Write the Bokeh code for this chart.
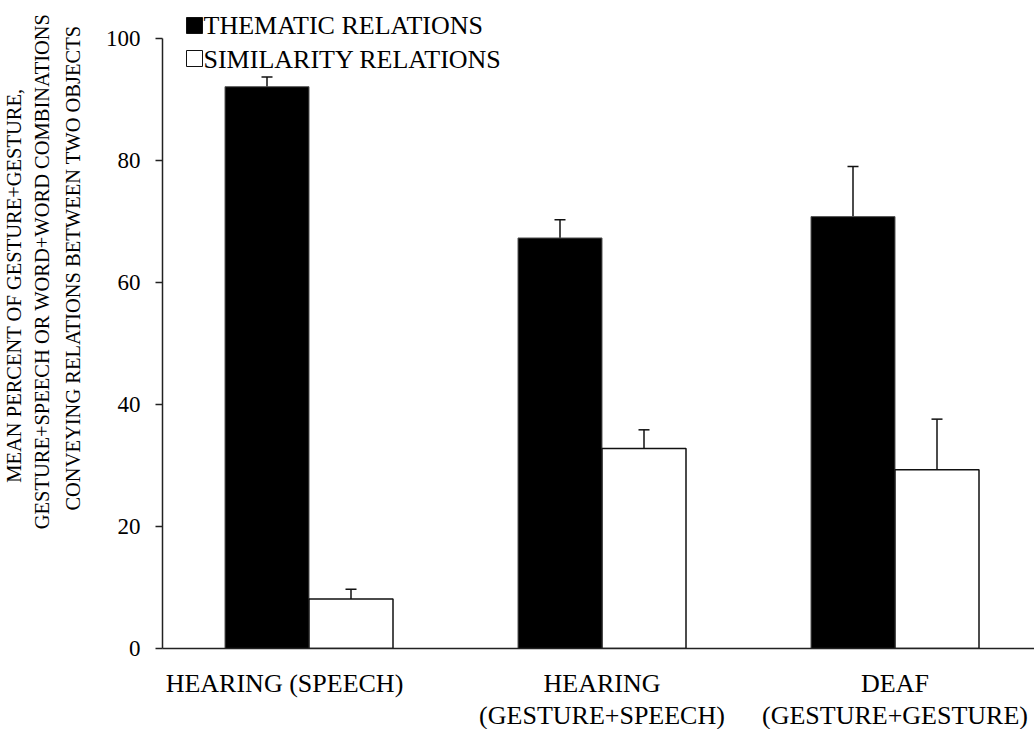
from bokeh.plotting import figure
from bokeh.models import (Range1d, FixedTicker, Whisker, TeeHead, ColumnDataSource,
                          LinearAxis, Title)
from bokeh.core.properties import value
from bokeh.embed import file_html
from bokeh.resources import INLINE

# ---- data ----
categories = ["HEARING (SPEECH)", "HEARING\n(GESTURE+SPEECH)", "DEAF\n(GESTURE+GESTURE)"]
series = ["THEMATIC RELATIONS", "SIMILARITY RELATIONS"]
thematic = [92.1, 67.3, 70.8]
thematic_err = [1.6, 3.0, 8.2]
similarity = [8.1, 32.8, 29.3]
similarity_err = [1.6, 3.05, 8.3]
y_ticks = [0, 20, 40, 60, 80, 100]
y_label_lines = ["MEAN PERCENT OF GESTURE+GESTURE,",
                 "GESTURE+SPEECH OR WORD+WORD  COMBINATIONS",
                 "CONVEYING RELATIONS BETWEEN TWO OBJECTS"]

FONT = "Liberation Serif"
PX_X = 293.0   # px per category
PX_Y = 6.1     # px per percent
FRAME_W = 872
FRAME_H = 648

centers = [i + 0.5 for i in range(len(categories))]
bw = 84 / PX_X

p = figure(frame_width=FRAME_W, frame_height=FRAME_H,
           x_range=Range1d(0, FRAME_W / PX_X), y_range=Range1d(0, FRAME_H / PX_Y),
           min_border_left=162, min_border_right=0, min_border_top=0, min_border_bottom=0,
           output_backend="svg", toolbar_location=None)
p.outline_line_color = None
p.grid.visible = False
p.background_fill_color = "white"
p.border_fill_color = "white"

# bars
th_x = [c - bw / 2 for c in centers]
si_x = [c + bw / 2 for c in centers]
p.vbar(x=th_x, width=bw, top=thematic, bottom=0, fill_color="black", line_color="#555555", line_width=1)
p.vbar(x=si_x, width=bw, top=similarity, bottom=0, fill_color="white", line_color="#111111", line_width=1.5)

# error bars
def add_err(xs, vals, errs):
    src = ColumnDataSource(dict(base=xs, upper=[v + e for v, e in zip(vals, errs)],
                                lower=[v - e for v, e in zip(vals, errs)]))
    w = Whisker(base="base", upper="upper", lower="lower", source=src,
                line_color="#111111", line_width=1.5,
                upper_head=TeeHead(size=11, line_width=1.5, line_color="#111111"),
                lower_head=TeeHead(size=11, line_width=1.5, line_color="#111111"))
    p.add_layout(w)

add_err(th_x, thematic, thematic_err)
add_err(si_x, similarity, similarity_err)

# y axis
ya = p.yaxis[0]
ya.ticker = FixedTicker(ticks=y_ticks)
ya.bounds = (0, 100)
ya.major_tick_out = 7
ya.major_tick_in = 0
ya.minor_tick_line_color = None
ya.axis_line_width = 1.5
ya.axis_line_color = "#222222"
ya.major_tick_line_width = 1.5
ya.major_tick_line_color = "#222222"
ya.major_label_text_font = FONT
ya.major_label_text_font_size = "23px"
ya.major_label_text_color = "black"
ya.major_label_standoff = 15

# gap between tick labels and the y title block
p.add_layout(Title(text=" ", text_font_size="1px", standoff=12), "left")

# y axis title: three lines, innermost first; each anchored by its top end
line_tops = [88, 8, 25]
line_standoffs = [1, 7, 7]
for txt, top, so in reversed(list(zip(y_label_lines, line_tops, line_standoffs))):
    p.add_layout(Title(text=txt, align="right", offset=top, text_font=FONT,
                       text_font_size="20.5px", text_font_style="normal",
                       text_color="black", standoff=so), "left")

# x axis: line 1 labels on the main axis, line 2 on a second (line-less) axis
lines1 = [c.split("\n")[0] for c in categories]
lines2 = [c.split("\n")[1] if "\n" in c else "" for c in categories]
shift1 = [-24.5 / PX_X, 0, 0]
t1 = [c + s for c, s in zip(centers, shift1)]
t2 = [c for c, l in zip(centers, lines2) if l]

xa = p.xaxis[0]
xa.ticker = FixedTicker(ticks=t1)
xa.major_label_overrides = {t: l for t, l in zip(t1, lines1)}
xa.axis_line_width = 1.5
xa.axis_line_color = "#222222"
xa.major_tick_line_color = None
xa.major_tick_out = 0
xa.minor_tick_line_color = None
xa.major_label_text_font = FONT
xa.major_label_text_font_size = "26px"
xa.major_label_text_color = "black"
xa.major_label_standoff = 20

xa2 = LinearAxis(ticker=FixedTicker(ticks=t2),
                 major_label_overrides={t: l for t, l in zip(t2, [l for l in lines2 if l])})
xa2.axis_line_color = None
xa2.major_tick_line_color = None
xa2.major_tick_out = 0
xa2.minor_tick_line_color = None
xa2.major_label_text_font = FONT
xa2.major_label_text_font_size = "26px"
xa2.major_label_text_color = "black"
xa2.major_label_standoff = 0
p.add_layout(xa2, "below")

# legend
leg_sq_x = [(194 - 162) / PX_X] * 2
leg_sq_y = [(648 - 25) / PX_Y, (648 - 58) / PX_Y]
p.scatter(x=leg_sq_x, y=leg_sq_y, marker="square", size=16,
          fill_color=["black", "white"], line_color="#111111", line_width=1)
p.text(x=[(203 - 162) / PX_X] * 2, y=[(648 - 25) / PX_Y, (648 - 59) / PX_Y], text=series,
       text_font=value(FONT), text_font_size="26px", text_baseline="alphabetic",
       text_align="left", text_color="black")

open("out.html", "w").write(file_html(p, INLINE))
